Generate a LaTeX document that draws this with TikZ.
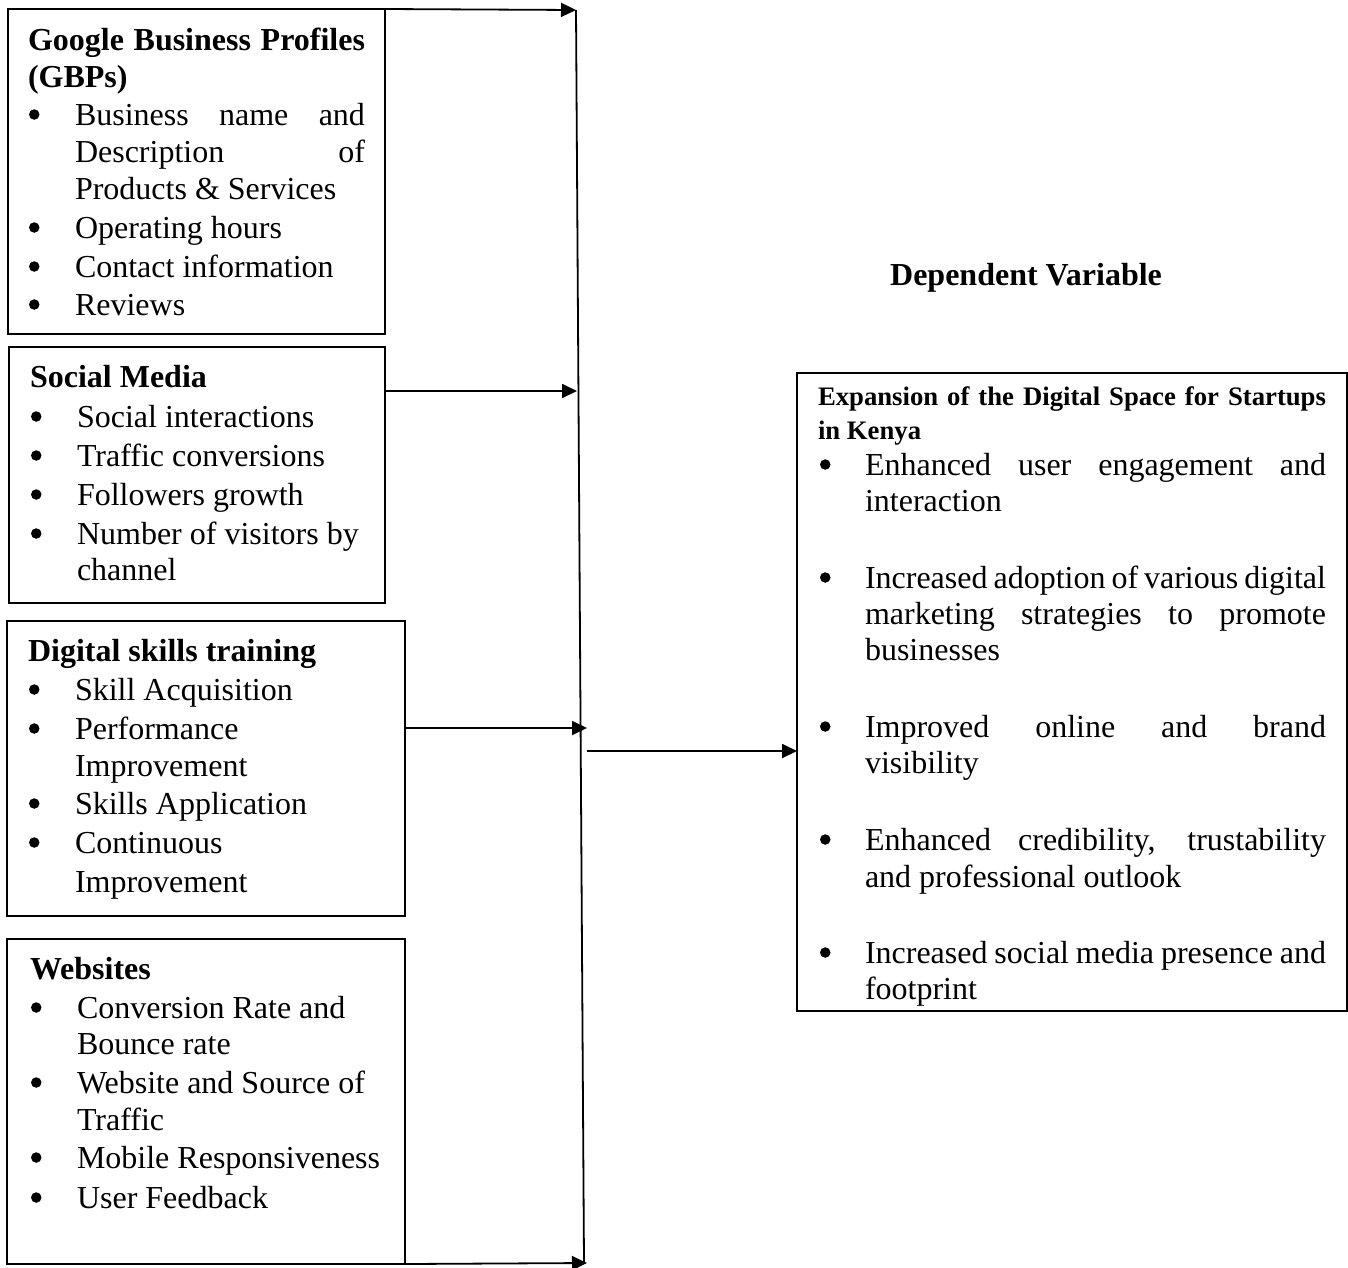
\documentclass[tikz,border=0pt]{standalone}
\usepackage{fontspec}
\setmainfont{Liberation Serif}
\usetikzlibrary{arrows.meta}
\newcommand{\jline}[2]{\makebox[#1][s]{#2}}
\newcommand{\bodyfont}{\fontsize{32}{39}\selectfont}
\newcommand{\headfont}{\fontsize{32}{39}\selectfont\bfseries}
\newcommand{\smallhead}{\fontsize{26.7}{34}\selectfont\bfseries}
\tikzset{
  box/.style={draw, line width=1.6pt, anchor=north west, inner sep=0pt, outer sep=0pt},
  txt/.style={anchor=base west, inner sep=0pt, outer sep=0pt, font=\bodyfont},
  hd/.style={anchor=base west, inner sep=0pt, outer sep=0pt, font=\headfont},
  shd/.style={anchor=base west, inner sep=0pt, outer sep=0pt, font=\smallhead},
  bul/.style={circle, fill=black, draw=none, inner sep=0pt, outer sep=0pt, minimum size=10.5pt, anchor=west, yshift=10.5pt},
  arr/.style={line width=1.8pt, -{Triangle[length=15pt,width=14pt]}},
  bus/.style={line width=1.8pt},
}
\begin{document}
\begin{tikzpicture}[x=1pt,y=-1pt]
\useasboundingbox (0,0) rectangle (1348,1267);
% boxes
\node[box, minimum width=377pt, minimum height=325pt] (gbp) at (8,9) {};
\node[box, minimum width=376pt, minimum height=256pt] (sm) at (9,347) {};
\node[box, minimum width=398pt, minimum height=295pt] (ds) at (7,621) {};
\node[box, minimum width=398pt, minimum height=325pt] (ws) at (7,939) {};
\node[box, minimum width=550pt, minimum height=638pt] (dv) at (797,373) {};

% GBP box text
\node[hd] (g0) at (28,50) {\jline{337pt}{Google Business Profiles}};
\node[hd] (g1) at (28,87) {(GBPs)};
\node[bul] (gb1) at (29,125) {};
\node[bul] (gb2) at (29,238) {};
\node[bul] (gb3) at (29,277) {};
\node[bul] (gb4) at (29,315) {};
\node[txt] (g2) at (75,125) {\jline{290pt}{Business name and}};
\node[txt] (g3) at (75,162) {\jline{290pt}{Description of}};
\node[txt] (g4) at (75,199) {Products \& Services};
\node[txt] (g5) at (75,238) {Operating hours};
\node[txt] (g6) at (75,277) {Contact information};
\node[txt] (g7) at (75,315) {Reviews};

% Social media
\node[hd] (s0) at (30,387) {Social Media};
\node[bul] (sb1) at (31,427) {};
\node[bul] (sb2) at (31,466) {};
\node[bul] (sb3) at (31,505) {};
\node[bul] (sb4) at (31,544) {};
\node[txt] (s1) at (77,427) {Social interactions};
\node[txt] (s2) at (77,466) {Traffic conversions};
\node[txt] (s3) at (77,505) {Followers growth};
\node[txt] (s4) at (77,544) {Number of visitors by};
\node[txt] (s5) at (77,580) {channel};

% Digital skills
\node[hd] (d0) at (28,661) {Digital skills training};
\node[bul] (db1) at (29,700) {};
\node[bul] (db2) at (29,739) {};
\node[bul] (db3) at (29,814) {};
\node[bul] (db4) at (29,853) {};
\node[txt] (d1) at (75,700) {Skill Acquisition};
\node[txt] (d2) at (75,739) {Performance};
\node[txt] (d3) at (75,776) {Improvement};
\node[txt] (d4) at (75,814) {Skills Application};
\node[txt] (d5) at (75,853) {Continuous};
\node[txt] (d6) at (75,892) {Improvement};

% Websites
\node[hd] (w0) at (30,979) {Websites};
\node[bul] (wb1) at (31,1018) {};
\node[bul] (wb2) at (31,1093) {};
\node[bul] (wb3) at (31,1168) {};
\node[bul] (wb4) at (31,1208) {};
\node[txt] (w1) at (77,1018) {Conversion Rate and};
\node[txt] (w2) at (77,1054) {Bounce rate};
\node[txt] (w3) at (77,1093) {Website and Source of};
\node[txt] (w4) at (77,1130) {Traffic};
\node[txt] (w5) at (77,1168) {Mobile Responsiveness};
\node[txt] (w6) at (77,1208) {User Feedback};

% Dependent variable label
\node[anchor=base, inner sep=0pt, font=\headfont] (dvl) at (1026,285) {Dependent Variable};

% Right box text (clipped by the box)
\begin{scope}
\clip (dv.north west) rectangle (dv.south east);
\node[shd] (r0) at (818,405) {\jline{508pt}{Expansion of the Digital Space for Startups}};
\node[shd] (r1) at (818,439) {in Kenya};
\node[bul] (rb1) at (820,475) {};
\node[bul] (rb2) at (820,588) {};
\node[bul] (rb3) at (820,737) {};
\node[bul] (rb4) at (820,850) {};
\node[bul] (rb5) at (820,963) {};
\node[txt] (r2) at (865,475) {\jline{461pt}{Enhanced user engagement and}};
\node[txt] (r3) at (865,511) {interaction};
\node[txt] (r4) at (865,588) {\jline{461pt}{Increased adoption of various digital}};
\node[txt] (r5) at (865,624) {\jline{461pt}{marketing strategies to promote}};
\node[txt] (r6) at (865,660) {businesses};
\node[txt] (r7) at (865,737) {\jline{461pt}{Improved online and brand}};
\node[txt] (r8) at (865,773) {visibility};
\node[txt] (r9) at (865,850) {\jline{461pt}{Enhanced credibility, trustability}};
\node[txt] (r10) at (865,887) {and professional outlook};
\node[txt] (r11) at (865,963) {\jline{461pt}{Increased social media presence and}};
\node[txt] (r12) at (865,999) {footprint};
\end{scope}

% bus line and arrows
\coordinate (bt) at (576,10);
\coordinate (bb) at (584,1263);
\coordinate (p2) at (577,391);
\coordinate (p3) at (587,728);
\coordinate (p4) at (587,1263);
\coordinate (p5) at (587,751);
\draw[bus] (bt) -- (bb);
\draw[arr] (gbp.north east) -- (bt);
\draw[arr] (sm.east |- p2) -- (p2);
\draw[arr] (ds.east |- p3) -- (p3);
\draw[arr] (ws.south east) -- (p4);
\draw[arr] (p5) -- (dv.west |- p5);
\end{tikzpicture}
\end{document}
